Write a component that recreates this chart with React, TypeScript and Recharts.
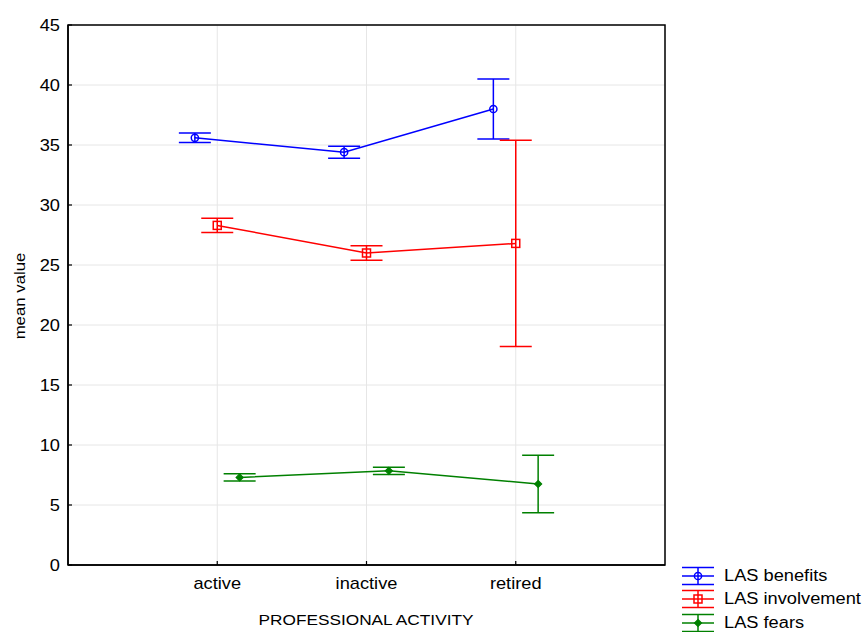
import React from 'react';
import {
  ComposedChart,
  Line,
  XAxis,
  YAxis,
  CartesianGrid,
  ErrorBar,
  ReferenceArea,
  Legend,
} from 'recharts';

const categories = ['active', 'inactive', 'retired'];
const yTicks = [0, 5, 10, 15, 20, 25, 30, 35, 40, 45];

const benefitsMean = [35.6, 34.4, 38.0];
const benefitsErr = [0.4, 0.5, 2.5];
const involvementMean = [28.3, 26.0, 26.8];
const involvementErr = [0.6, 0.6, 8.6];
const fearsMean = [7.3, 7.85, 6.75];
const fearsErr = [0.3, 0.3, 2.4];

const seriesNames = ['LAS benefits', 'LAS involvement', 'LAS fears'];
const seriesColors = ['#0000ff', '#ff0000', '#008000'];
const seriesShift = [-0.15, 0, 0.15];

const build = (mean: number[], err: number[], shift: number) =>
  categories.map((c, i) => ({ x: i + 1 + shift, y: mean[i], err: err[i], cat: c }));

const benefitsData = build(benefitsMean, benefitsErr, seriesShift[0]);
const involvementData = build(involvementMean, involvementErr, seriesShift[1]);
const fearsData = build(fearsMean, fearsErr, seriesShift[2]);

const FONT = 'Liberation Sans, Arial, sans-serif';
const SX = 1.14;

const Marker = ({ kind, cx, cy, color }: { kind: number; cx: number; cy: number; color: string }) => {
  if (kind === 0) return <circle cx={cx} cy={cy} r={3.6} stroke={color} strokeWidth={1.5} fill="none" />;
  if (kind === 1)
    return <rect x={cx - 4} y={cy - 4} width={8} height={8} stroke={color} strokeWidth={1.5} fill="none" />;
  return (
    <polygon
      points={`${cx},${cy - 3.5} ${cx + 3.5},${cy} ${cx},${cy + 3.5} ${cx - 3.5},${cy}`}
      stroke={color}
      strokeWidth={1.2}
      fill={color}
    />
  );
};

const makeDot = (kind: number) => (props: any) => {
  const { cx, cy, index } = props;
  if (cx == null || cy == null) return <g key={`d-${kind}-${index}`} />;
  return (
    <g key={`d-${kind}-${index}`}>
      <Marker kind={kind} cx={cx} cy={cy} color={seriesColors[kind]} />
    </g>
  );
};

const YTick = (props: any) => {
  const { x, y, payload } = props;
  return (
    <g>
      <line x1={x} y1={y} x2={x + 4} y2={y} stroke="#000" strokeWidth={1.2} />
      <text
        transform={`translate(${x - 8},${y + 5.6}) scale(${SX},1)`}
        textAnchor="end"
        fontSize={16}
        fontFamily={FONT}
        fill="#000"
      >
        {payload.value}
      </text>
    </g>
  );
};

const XTick = (props: any) => {
  const { x, y, payload } = props;
  const idx = Math.round(payload.value) - 1;
  return (
    <g>
      <line x1={x} y1={y} x2={x} y2={y - 4} stroke="#000" strokeWidth={1.2} />
      <text
        transform={`translate(${x},${y + 24}) scale(${SX},1)`}
        textAnchor="middle"
        fontSize={16}
        fontFamily={FONT}
        fill="#000"
      >
        {categories[idx] ?? ''}
      </text>
    </g>
  );
};

const LegendContent = () => (
  <div style={{ fontFamily: FONT, fontSize: 16, color: '#000' }}>
    {seriesNames.map((n, k) => (
      <div key={n} style={{ display: 'flex', alignItems: 'center', height: 23.5, whiteSpace: 'nowrap' }}>
        <svg width={34} height={20} style={{ display: 'block', overflow: 'visible' }}>
          <line x1={1} y1={10} x2={33} y2={10} stroke={seriesColors[k]} strokeWidth={1.5} />
          <line x1={1} y1={1.5} x2={33} y2={1.5} stroke={seriesColors[k]} strokeWidth={1.5} />
          <line x1={1} y1={18.5} x2={33} y2={18.5} stroke={seriesColors[k]} strokeWidth={1.5} />
          <line x1={17} y1={1.5} x2={17} y2={18.5} stroke={seriesColors[k]} strokeWidth={1.5} />
          <Marker kind={k} cx={17} cy={10} color={seriesColors[k]} />
        </svg>
        <span
          style={{
            marginLeft: 9,
            display: 'inline-block',
            transform: `scaleX(${SX})`,
            transformOrigin: 'left center',
          }}
        >
          {n}
        </span>
      </div>
    ))}
  </div>
);

export default function App() {
  return (
    <div style={{ position: 'absolute', left: 0, top: 0, width: 863, height: 632, background: '#fff' }}>
      <ComposedChart width={863} height={632} margin={{ top: 25, right: 198, bottom: 0, left: 0 }}>
        <CartesianGrid stroke="#e6e6e6" strokeWidth={1} />
        <XAxis
          type="number"
          dataKey="x"
          domain={[0, 4]}
          ticks={[1, 2, 3]}
          allowDataOverflow
          tickSize={0}
          tickMargin={0}
          tickLine={false}
          axisLine={{ stroke: '#000', strokeWidth: 1.5 }}
          tick={<XTick />}
          height={67}
          label={{
            content: () => (
              <text
                transform={`translate(366,625) scale(1.15,1)`}
                textAnchor="middle"
                fontSize={15}
                fontFamily={FONT}
                fill="#000"
              >
                PROFESSIONAL ACTIVITY
              </text>
            ),
          }}
        />
        <YAxis
          type="number"
          domain={[0, 45]}
          ticks={yTicks}
          width={68}
          tickSize={0}
          tickMargin={0}
          tickLine={false}
          axisLine={{ stroke: '#000', strokeWidth: 1.5 }}
          tick={<YTick />}
          label={{
            content: () => (
              <text
                transform={`translate(25,296) rotate(-90) scale(1.12,1)`}
                textAnchor="middle"
                fontSize={15}
                fontFamily={FONT}
                fill="#000"
              >
                mean value
              </text>
            ),
          }}
        />
        <ReferenceArea x1={0} x2={4} y1={0} y2={45} fill="none" stroke="#000" strokeWidth={1.5} ifOverflow="visible" />
        <Line
          data={benefitsData}
          dataKey="y"
          name={seriesNames[0]}
          stroke={seriesColors[0]}
          strokeWidth={1.5}
          dot={makeDot(0)}
          activeDot={false}
          isAnimationActive={false}
        >
          <ErrorBar dataKey="err" width={16} stroke={seriesColors[0]} strokeWidth={1.5} direction="y" isAnimationActive={false} />
        </Line>
        <Line
          data={involvementData}
          dataKey="y"
          name={seriesNames[1]}
          stroke={seriesColors[1]}
          strokeWidth={1.5}
          dot={makeDot(1)}
          activeDot={false}
          isAnimationActive={false}
        >
          <ErrorBar dataKey="err" width={16} stroke={seriesColors[1]} strokeWidth={1.5} direction="y" isAnimationActive={false} />
        </Line>
        <Line
          data={fearsData}
          dataKey="y"
          name={seriesNames[2]}
          stroke={seriesColors[2]}
          strokeWidth={1.5}
          dot={makeDot(2)}
          activeDot={false}
          isAnimationActive={false}
        >
          <ErrorBar dataKey="err" width={16} stroke={seriesColors[2]} strokeWidth={1.5} direction="y" isAnimationActive={false} />
        </Line>
        <Legend
          layout="vertical"
          align="center"
          verticalAlign="middle"
          content={<LegendContent />}
          wrapperStyle={{ left: 681, top: 564, width: 182 }}
        />
      </ComposedChart>
    </div>
  );
}
